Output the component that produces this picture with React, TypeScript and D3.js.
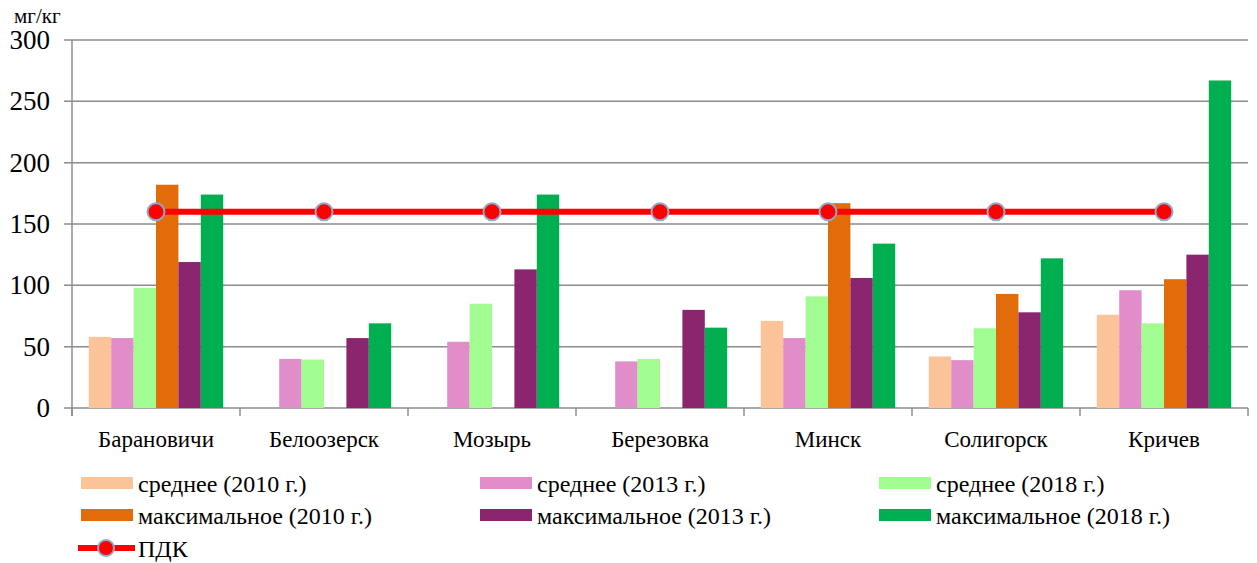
import React from "react";
import * as d3 from "d3";

const categories = ["Барановичи", "Белоозерск", "Мозырь", "Березовка", "Минск", "Солигорск", "Кричев"];
const seriesNames = [
  "среднее (2010 г.)",
  "среднее (2013 г.)",
  "среднее (2018 г.)",
  "максимальное (2010 г.)",
  "максимальное (2013 г.)",
  "максимальное (2018 г.)",
];
const avg2010: (number | null)[] = [58, null, null, null, 71, 42, 76];
const avg2013: (number | null)[] = [57, 40, 54, 38, 57, 39, 96];
const avg2018: (number | null)[] = [98, 39.5, 85, 40, 91, 65, 69];
const max2010: (number | null)[] = [182, null, null, null, 167, 93, 105];
const max2013: (number | null)[] = [119, 57, 113, 80, 106, 78, 125];
const max2018: (number | null)[] = [174, 69, 174, 65.5, 134, 122, 267];
const pdk: number[] = [160, 160, 160, 160, 160, 160, 160];
const pdkName = "ПДК";
const yTicks = [0, 50, 100, 150, 200, 250, 300];
const unitLabel = "мг/кг";

const seriesValues = [avg2010, avg2013, avg2018, max2010, max2013, max2018];
const colors = ["#FAC498", "#E08DC9", "#A2FD90", "#E36C0A", "#8B256E", "#00B050"];

const FONT = '"Liberation Serif", "Times New Roman", "DejaVu Serif", serif';

export default function App() {
  const W = 1257;
  const H = 563;
  const left = 72;
  const right = 1248;
  const top = 40;
  const bottom = 408;

  const x0 = d3.scaleBand<string>().domain(categories).range([left, right]).paddingInner(0.2).paddingOuter(0.1);
  const x1 = d3.scaleBand<string>().domain(seriesNames).range([0, x0.bandwidth()]).padding(0);
  const y = d3.scaleLinear().domain([0, 300]).range([bottom, top]);

  const step = x0.step();
  const boundaries = d3.range(categories.length + 1).map((i) => left + i * step);

  const pdkPts = categories.map((c, i) => [x0(c)! + x0.bandwidth() / 2, y(pdk[i])] as [number, number]);
  const line = d3.line();

  const gridColor = "#8C8C8C";

  const legendCols = [81, 480, 879];
  const legendRows = [483, 515];
  const ts: React.CSSProperties = { fontFamily: FONT };

  return (
    <svg width={W} height={H} style={{ position: "absolute", left: 0, top: 0, fontFamily: FONT }}>
      <rect x={0} y={0} width={W} height={H} fill="#fff" />
      {yTicks.map((t) => (
        <line key={t} x1={64} x2={right} y1={y(t)} y2={y(t)} stroke={gridColor} strokeWidth={1.5} />
      ))}
      <line x1={left} x2={left} y1={top} y2={bottom + 8} stroke={gridColor} strokeWidth={1.5} />
      {boundaries.map((b, i) => (
        <line key={i} x1={b} x2={b} y1={bottom} y2={bottom + 8} stroke={gridColor} strokeWidth={1.5} />
      ))}
      {yTicks.map((t) => (
        <text key={t} style={ts} x={50} y={y(t) + 9} textAnchor="end" fontSize={27} fill="#000">
          {t}
        </text>
      ))}
      <text style={ts} x={14} y={23} fontSize={21} fill="#000">
        {unitLabel}
      </text>
      {categories.map((c, ci) => (
        <g key={c} transform={`translate(${x0(c)},0)`}>
          {seriesNames.map((s, si) => {
            const v = seriesValues[si][ci];
            if (v == null) return null;
            return (
              <rect key={s} x={x1(s)} y={y(v)} width={x1.bandwidth()} height={y(0) - y(v)} fill={colors[si]} />
            );
          })}
        </g>
      ))}
      {categories.map((c) => (
        <text key={c} style={ts} x={x0(c)! + x0.bandwidth() / 2} y={447} textAnchor="middle" fontSize={23} fill="#000">
          {c}
        </text>
      ))}
      <path d={line(pdkPts) || ""} fill="none" stroke="#FF0000" strokeWidth={6} />
      {pdkPts.map((p, i) => (
        <circle key={i} cx={p[0]} cy={p[1]} r={8.5} fill="#FF0000" stroke="#8FA8CC" strokeWidth={2} />
      ))}
      {seriesNames.map((s, si) => {
        const col = si % 3;
        const row = Math.floor(si / 3);
        const lx = legendCols[col];
        const ly = legendRows[row];
        return (
          <g key={s}>
            <rect x={lx} y={ly - 6} width={52} height={12} fill={colors[si]} />
            <text style={ts} x={lx + 57} y={ly + 9} fontSize={24} fill="#000">
              {s}
            </text>
          </g>
        );
      })}
      <g>
        <line x1={78} x2={135} y1={548} y2={548} stroke="#FF0000" strokeWidth={6} />
        <circle cx={106} cy={548} r={8} fill="#FF0000" stroke="#8FA8CC" strokeWidth={2} />
        <text style={ts} x={138} y={557} fontSize={24} fill="#000">
          {pdkName}
        </text>
      </g>
    </svg>
  );
}
